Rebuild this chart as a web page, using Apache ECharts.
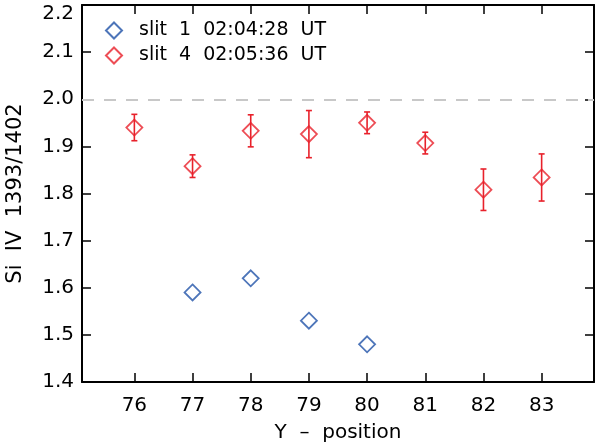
<!DOCTYPE html>
<html lang="en">
<head>
    <meta charset="UTF-8">
    <title>Si IV 1393/1402 ratio</title>
    <script src="https://cdn.jsdelivr.net/npm/echarts@6/dist/echarts.min.js"></script>
    <style>
        html, body { margin: 0; padding: 0; background: #fff; }
    </style>
</head>
<body>
<div id="chart" style="width: 595px;height: 446px"></div>
<script type="text/javascript">
    // slit 1 (no error bars)
    var slit1Pos = [77, 78, 79, 80];
    var slit1Ratio = [1.59, 1.62, 1.53, 1.48];

    // slit 4 with errors
    var slit4Pos = [76, 77, 78, 79, 80, 81, 82, 83];
    var slit4Ratio = [1.940, 1.858, 1.933, 1.926, 1.950, 1.907, 1.808, 1.834];
    var slit4Err = [0.028, 0.024, 0.034, 0.050, 0.023, 0.023, 0.044, 0.050];

    var xTicks = [76, 77, 78, 79, 80, 81, 82, 83];
    var legendNames = ['slit  1  02:04:28  UT', 'slit  4  02:05:36  UT'];

    var blue = '#2152a8',
        red = '#e8212b',
        font = 'DejaVu Sans';

    var echart = echarts.init(document.getElementById('chart'));

    var slit1Data = slit1Pos.map(function (x, i) { return [x, slit1Ratio[i]]; });
    var slit4Data = slit4Pos.map(function (x, i) { return [x, slit4Ratio[i]]; });
    var errData = slit4Pos.map(function (x, i) {
        return [x, slit4Ratio[i] - slit4Err[i], slit4Ratio[i] + slit4Err[i]];
    });

    var tickStyle = {show: true, inside: true, length: 9, lineStyle: {color: '#000', width: 1.5}};
    var lineStyle = {show: true, lineStyle: {color: '#000', width: 2}};

    var options = {
        animation: false,
        grid: {left: 82, right: 1, top: 5, bottom: 64, outerBoundsMode: 'none'},
        legend: {
            orient: 'vertical',
            left: 105,
            top: 21,
            padding: 0,
            itemWidth: 16,
            itemHeight: 16,
            itemGap: 6,
            data: legendNames,
            textStyle: {fontFamily: font, fontSize: 19, lineHeight: 16, color: '#000', padding: [0, 0, 0, 12]}
        },
        xAxis: [{
            type: 'value',
            min: 75.1,
            max: 83.9,
            name: 'Y  \u2013  position',
            nameLocation: 'middle',
            nameGap: 41,
            nameTextStyle: {fontFamily: font, fontSize: 20, color: '#000'},
            axisLine: lineStyle,
            axisTick: Object.assign({customValues: xTicks}, tickStyle),
            axisLabel: {customValues: xTicks, fontFamily: font, fontSize: 20, color: '#000', margin: 14},
            splitLine: {show: false}
        }, {
            type: 'value',
            position: 'top',
            min: 75.1,
            max: 83.9,
            axisLine: lineStyle,
            axisTick: Object.assign({customValues: xTicks}, tickStyle),
            axisLabel: {show: false},
            splitLine: {show: false}
        }],
        yAxis: [{
            type: 'value',
            min: 1.4,
            max: 2.2,
            interval: 0.1,
            name: 'Si  IV  1393/1402',
            nameLocation: 'middle',
            nameGap: 56,
            nameTextStyle: {fontFamily: font, fontSize: 21, color: '#000'},
            axisLine: lineStyle,
            axisTick: tickStyle,
            axisLabel: {
                fontFamily: font, fontSize: 20, color: '#000', margin: 8,
                formatter: function (v) {
                    // top label sits inside the canvas, like the original
                    return v >= 2.199 ? '{top|' + v.toFixed(1) + '}' : v.toFixed(1);
                },
                rich: {
                    top: {fontFamily: font, fontSize: 20, color: '#000', padding: [17, 0, 0, 0]}
                }
            },
            splitLine: {show: false}
        }, {
            type: 'value',
            position: 'right',
            min: 1.4,
            max: 2.2,
            interval: 0.1,
            axisLine: lineStyle,
            axisTick: tickStyle,
            axisLabel: {show: false},
            splitLine: {show: false}
        }],
        series: [
            {
                name: legendNames[0],
                type: 'scatter',
                symbol: 'diamond',
                symbolSize: 16,
                itemStyle: {color: '#fff', borderColor: blue, borderWidth: 1.8},
                data: slit1Data,
                z: 3
            },
            {
                name: legendNames[1] + ' err',
                type: 'custom',
                renderItem: function (params, api) {
                    var top = api.coord([api.value(0), api.value(2)]),
                        bot = api.coord([api.value(0), api.value(1)]),
                        cap = 3,
                        style = {stroke: red, lineWidth: 1.6};
                    return {
                        type: 'group',
                        children: [
                            {type: 'line', shape: {x1: top[0], y1: top[1], x2: bot[0], y2: bot[1]}, style: style},
                            {type: 'line', shape: {x1: top[0] - cap, y1: top[1], x2: top[0] + cap, y2: top[1]}, style: style},
                            {type: 'line', shape: {x1: bot[0] - cap, y1: bot[1], x2: bot[0] + cap, y2: bot[1]}, style: style}
                        ]
                    };
                },
                encode: {x: 0, y: [1, 2]},
                data: errData,
                z: 2
            },
            {
                name: legendNames[1],
                type: 'scatter',
                symbol: 'diamond',
                symbolSize: 16,
                itemStyle: {color: 'rgba(255,255,255,0)', borderColor: red, borderWidth: 1.8},
                data: slit4Data,
                z: 3,
                markLine: {
                    silent: true,
                    symbol: 'none',
                    label: {show: false},
                    lineStyle: {color: '#c8c8c8', width: 2, type: [12, 10]},
                    data: [{yAxis: 2.0}]
                }
            }
        ]
    };
    echart.setOption(options);
</script>
</body>
</html>
